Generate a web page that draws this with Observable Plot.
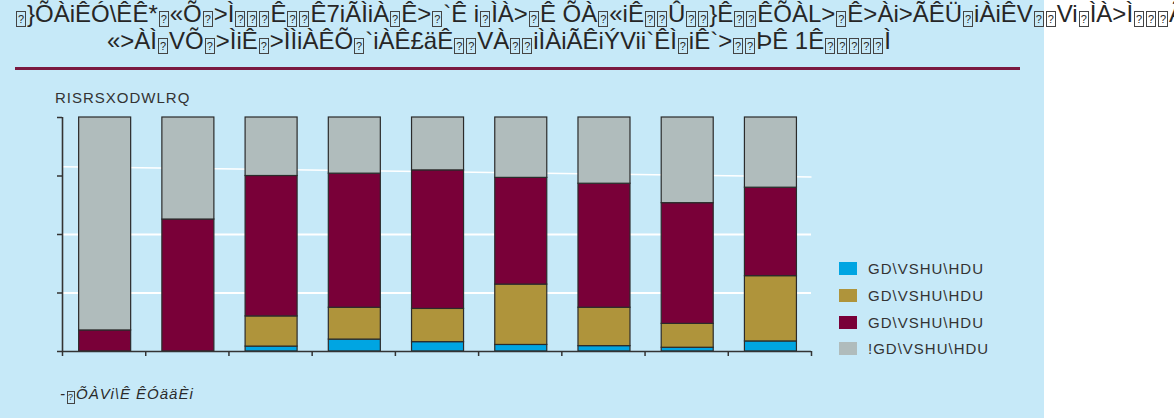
<!DOCTYPE html>
<html>
<head>
<meta charset="utf-8">
<script src="https://cdn.jsdelivr.net/npm/d3@7"></script>
<script src="https://cdn.jsdelivr.net/npm/@observablehq/plot@0.6"></script>
<style>
  html, body { margin: 0; padding: 0; background: #ffffff; overflow: hidden; width: 1174px; height: 418px; }
  #panel { position: absolute; left: 0; top: 0; width: 1044px; height: 418px; background: #c6e9f8; }
  .t { position: absolute; white-space: nowrap; font-family: "Liberation Sans", Arial, sans-serif; color: #262626; }
  .title { font-size: 24px; line-height: 24px; }
  .nd { display: inline-block; box-sizing: border-box; width: 10px; height: 16px; border: 1px solid #444;
        font-size: 11px; line-height: 14px; text-align: center; vertical-align: -1px; margin: 0 1px; font-style: normal; }
  .lab .nd { width: 8px; height: 13px; font-size: 9px; line-height: 11px; }
  #rule { position: absolute; left: 15px; top: 67px; width: 1005px; height: 3px; background: #7b1a40; }
  #chart { position: absolute; left: 0; top: 80px; }
  .lab { font-size: 15px; line-height: 15px; letter-spacing: 1px; color: #333; }
  .sw { position: absolute; width: 18px; height: 13px; }
</style>
</head>
<body>
<div id="panel"></div>
<div id="rule"></div>
<div id="chart"></div>
<script>
// ---- text ("\u0000" marks a glyph the source font could not show) ----
const B = "\u0000";
const titleLine1 = `${B}}ÕÀiÊÓ\\ÊÊ*${B}«Õ${B}>Ì${B}${B}${B}Ê${B}${B}Ê7iÃÌiÀ${B}Ê>${B}\`Ê i${B}ÌÀ>${B}Ê ÕÀ${B}«iÊ${B}${B}Û${B}${B}}Ê${B}${B}ÊÕÀL>${B}Ê>Ài>ÃÊÜ${B}iÀiÊV${B}${B}Vi${B}ÌÀ>Ì${B}${B}${B}ÃÊ${B}vÊ`;
const titleLine2 = `«>ÀÌ${B}VÕ${B}>ÌiÊ${B}>ÌÌiÀÊÕ${B}\`iÀÊ£äÊ${B}${B}VÀ${B}${B}iÌÀiÃÊiÝVii\`ÊÌ${B}iÊ\`>${B}${B}ÞÊ 1Ê${B}${B}${B}${B}${B}Ì`;
const yLabel = "RISRSXODWLRQ";
const caption = `-${B}ÕÀVi\\Ê ÊÓääÈi`;

// ---- data ----
const categories = ["", "", "", "", "", "", "", "", ""];
const seriesKeys = ["GD\\VSHU\\HDU 1", "GD\\VSHU\\HDU 2", "GD\\VSHU\\HDU 3", "!GD\\VSHU\\HDU"];
const legendLabels = ["GD\\VSHU\\HDU", "GD\\VSHU\\HDU", "GD\\VSHU\\HDU", "!GD\\VSHU\\HDU"];
const seriesColors = ["#00a5e2", "#af943b", "#790038", "#b0bcbc"];
const seriesBlue   = [0, 0, 2.1, 5.1, 4.0, 2.8, 2.3, 1.6, 4.3];
const seriesGold   = [0, 0, 12.9, 13.6, 14.2, 25.8, 16.4, 10.2, 27.9];
const seriesMaroon = [9.0, 56.4, 60.0, 57.3, 59.2, 45.6, 53.0, 51.6, 37.8];
const seriesGray   = [91.0, 43.6, 25.0, 24.0, 22.6, 25.8, 28.3, 36.6, 30.0];
const yTicks = [0, 25, 50, 75, 100];
const gridLevels = [25, 50];
const gridSlant = [{from: 79.0, to: 74.6}];

// ---- build ----
const seriesValues = [seriesBlue, seriesGold, seriesMaroon, seriesGray];
const rows = [];
categories.forEach((c, i) => {
  let base = 0;
  seriesValues.forEach((vals, k) => {
    rows.push({i, key: seriesKeys[k], y1: base, y2: base + vals[i]});
    base += vals[i];
  });
});
const n = categories.length;
const boundaries = d3.range(n + 1);

const chart = Plot.plot({
  width: 1044,
  height: 300,
  marginLeft: 62,
  marginRight: 233,
  marginTop: 37,
  marginBottom: 29,
  style: {background: "transparent", overflow: "visible"},
  x: {domain: [0, n], axis: null},
  y: {domain: [0, 100], axis: null},
  color: {domain: seriesKeys, range: seriesColors},
  marks: [
    Plot.ruleY(gridLevels, {stroke: "#ffffff", strokeWidth: 2}),
    Plot.link(gridSlant, {x1: () => 0, x2: () => n, y1: "from", y2: "to", stroke: "#ffffff", strokeWidth: 1.5}),
    Plot.rect(rows, {x1: d => d.i + 0.2, x2: d => d.i + 0.825, y1: "y1", y2: "y2", fill: "key", stroke: "#2b2b2b", strokeWidth: 1.2}),
    Plot.axisY({ticks: yTicks, tickSize: 5, tickFormat: () => "", stroke: "#333", strokeWidth: 1.5}),
    Plot.axisX({ticks: boundaries, tickSize: 5, tickFormat: () => "", stroke: "#333", strokeWidth: 1.5}),
    Plot.ruleX([0], {stroke: "#333", strokeWidth: 1.6}),
    Plot.ruleY([0], {stroke: "#333", strokeWidth: 1.6})
  ]
});
document.getElementById("chart").appendChild(chart);

function addText(cls, txt, left, top, extra) {
  const d = document.createElement("div");
  d.className = "t " + cls;
  txt.split(B).forEach((part, j) => {
    if (j > 0) {
      const s = document.createElement("span");
      s.className = "nd";
      s.textContent = "?";
      d.appendChild(s);
    }
    d.appendChild(document.createTextNode(part));
  });
  d.style.left = left + "px";
  d.style.top = top + "px";
  if (extra) Object.assign(d.style, extra);
  document.body.appendChild(d);
  return d;
}
addText("title", titleLine1, 15, 2);
addText("title", titleLine2, 107, 29);
addText("lab", yLabel, 55, 90);
addText("lab", caption, 60, 386, {fontStyle: "italic", color: "#2a2a2a"});

const legendTops = [262, 289, 316, 342];
seriesColors.forEach((c, k) => {
  const s = document.createElement("div");
  s.className = "sw";
  s.style.left = "839px";
  s.style.top = legendTops[k] + "px";
  s.style.background = c;
  document.body.appendChild(s);
  addText("lab", legendLabels[k], 868, legendTops[k] - 1);
});
</script>
</body>
</html>
